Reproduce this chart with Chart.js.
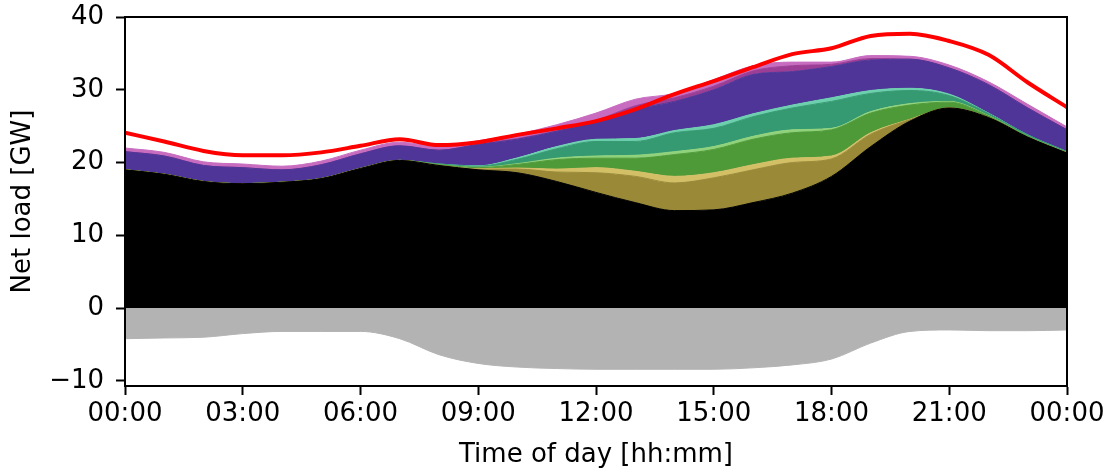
<!DOCTYPE html>
<html>
<head>
<meta charset="utf-8">
<script src="https://cdn.jsdelivr.net/npm/chart.js@4/dist/chart.umd.min.js"></script>
<style>
  html, body { margin: 0; padding: 0; background: #fff; }
  #wrap { width: 1112px; height: 471px; }
</style>
</head>
<body>
<div id="wrap"><canvas id="loadChart"></canvas></div>
<script>
// hour of day, 0..24
const hours = [0, 1, 2, 3, 4, 5, 6, 7, 8, 9, 10, 11, 12, 13, 14, 15, 16, 17, 18, 19, 20, 21, 22, 23, 24];

// stacked layers, bottom to top [GW]
const baseLoad   = [19.0, 18.4, 17.4, 17.1, 17.3, 17.8, 19.2, 20.3, 19.6, 19.0, 18.6, 17.4, 15.9, 14.5, 13.4, 13.5, 14.5, 15.8, 18.1, 22.2, 25.7, 27.5, 26.2, 23.5, 21.3];
const olive      = [0, 0, 0, 0, 0, 0, 0, 0, 0, 0.1, 0.5, 1.3, 2.7, 3.6, 3.8, 4.4, 4.5, 4.2, 2.4, 1.7, 0.2, 0, 0, 0, 0];
const oliveLight = [0, 0, 0, 0, 0, 0, 0, 0, 0, 0.05, 0.15, 0.4, 0.7, 0.7, 0.9, 0.7, 0.7, 0.6, 0.4, 0.2, 0.05, 0, 0, 0, 0];
const green      = [0, 0, 0, 0, 0, 0, 0, 0, 0.1, 0.15, 0.5, 1.3, 1.3, 1.8, 3.0, 3.2, 3.5, 3.5, 3.6, 2.7, 1.95, 0.8, 0.2, 0.1, 0.05];
const greenLight = [0, 0, 0, 0, 0, 0, 0, 0, 0, 0.05, 0.1, 0.2, 0.3, 0.4, 0.4, 0.4, 0.4, 0.4, 0.2, 0.2, 0.2, 0.1, 0.05, 0, 0];
const teal       = [0, 0, 0, 0, 0, 0, 0, 0, 0.1, 0.15, 0.6, 1.3, 2.0, 1.9, 2.6, 2.5, 2.7, 3.0, 3.7, 2.5, 1.8, 0.8, 0.3, 0.2, 0.15];
const tealLight  = [0, 0, 0, 0, 0, 0, 0, 0, 0, 0.05, 0.2, 0.3, 0.3, 0.4, 0.3, 0.5, 0.4, 0.4, 0.5, 0.4, 0.3, 0.2, 0.05, 0, 0];
const indigo     = [2.5, 2.5, 2.2, 2.2, 1.7, 1.9, 2.0, 2.0, 1.9, 2.95, 2.55, 2.1, 2.4, 4.0, 4.0, 4.8, 5.4, 4.6, 4.3, 4.2, 4.0, 3.6, 3.9, 3.7, 3.0];
const magenta    = [0, 0, 0, 0, 0, 0, 0, 0, 0, 0.05, 0.1, 0.1, 0.2, 0.5, 0.5, 0.5, 0.5, 0.8, 0.3, 0.2, 0, 0, 0, 0, 0];
const pink       = [0.5, 0.5, 0.5, 0.5, 0.5, 0.5, 0.5, 0.5, 0.5, 0.45, 0.6, 0.8, 1.0, 0.9, 0.6, 0.9, 0.7, 0.5, 0.3, 0.4, 0.4, 0.4, 0.4, 0.5, 0.4];

// below zero
const negative   = [-4.2, -4.1, -4.0, -3.5, -3.2, -3.2, -3.2, -4.2, -6.4, -7.6, -8.1, -8.3, -8.4, -8.4, -8.4, -8.4, -8.2, -7.8, -7.0, -4.8, -3.2, -3.0, -3.1, -3.1, -3.0];

// total load (red line)
const totalLoad  = [24.1, 22.9, 21.6, 21.0, 21.0, 21.4, 22.3, 23.2, 22.4, 22.8, 23.8, 24.7, 25.7, 27.3, 29.4, 31.2, 33.1, 34.9, 35.7, 37.4, 37.7, 36.7, 34.8, 31.0, 27.6];

const yTicks = [-10, 0, 10, 20, 30, 40];
const xTicks = [0, 3, 6, 9, 12, 15, 18, 21, 24];

function pts(values) {
  return values.map((v, i) => ({ x: hours[i], y: v }));
}

function layer(values, color, first) {
  return {
    data: pts(values),
    stack: "gen",
    backgroundColor: color,
    borderColor: color,
    borderWidth: 1,
    pointRadius: 0,
    fill: first ? "origin" : "-1",
    cubicInterpolationMode: "monotone",
    order: 1
  };
}

function hhmm(h) {
  return String(h % 24 === 0 && h > 0 ? 0 : h).padStart(2, "0") + ":00";
}

// no extra room for overhanging tick labels, the layout padding handles it
function noPad(s) {
  s.paddingTop = 0;
  s.paddingBottom = 0;
  s.paddingLeft = 0;
  s.paddingRight = 0;
}

const frame = {
  id: "frame",
  afterDraw(chart) {
    const a = chart.chartArea;
    const ctx = chart.ctx;
    ctx.save();
    ctx.strokeStyle = "#000";
    ctx.lineWidth = 2;
    ctx.strokeRect(a.left, a.top, a.right - a.left, a.bottom - a.top);
    ctx.restore();
  }
};

const font = { family: "'DejaVu Sans', sans-serif", size: 26 };

new Chart(document.getElementById("loadChart"), {
  type: "line",
  data: {
    datasets: [
      layer(baseLoad, "#000000", true),
      layer(olive, "#9a8a38"),
      layer(oliveLight, "#d2bf66"),
      layer(green, "#4f9a38"),
      layer(greenLight, "#8fd27b"),
      layer(teal, "#359a72"),
      layer(tealLight, "#6ccfae"),
      layer(indigo, "#4f3597"),
      layer(magenta, "#9c3d96"),
      layer(pink, "#c86cc0"),
      {
        data: pts(negative),
        stack: "neg",
        backgroundColor: "#b3b3b3",
        borderColor: "#b3b3b3",
        borderWidth: 1,
        pointRadius: 0,
        fill: "origin",
        cubicInterpolationMode: "monotone",
        order: 1
      },
      {
        data: pts(totalLoad),
        stack: "total",
        borderColor: "#ff0000",
        borderWidth: 4,
        pointRadius: 0,
        fill: false,
        cubicInterpolationMode: "monotone",
        order: 0
      }
    ]
  },
  options: {
    responsive: true,
    maintainAspectRatio: false,
    animation: false,
    layout: { padding: { top: 17, right: 45, left: 0, bottom: 0 } },
    plugins: {
      legend: { display: false },
      tooltip: { enabled: false }
    },
    scales: {
      x: {
        type: "linear",
        min: 0,
        max: 24,
        afterBuildTicks: (s) => { s.ticks = xTicks.map(v => ({ value: v })); },
        afterFit: (s) => { s.height = 85; noPad(s); },
        border: { color: "#000", width: 2 },
        grid: { drawOnChartArea: false, drawTicks: true, tickLength: 9, tickWidth: 2, tickColor: "#000" },
        ticks: { color: "#000", font, padding: 4, maxRotation: 0, callback: (v) => hhmm(v) },
        title: { display: true, text: "Time of day [hh:mm]", color: "#000", font, padding: { top: 0, bottom: 0 } }
      },
      y: {
        stacked: true,
        min: -10.7,
        max: 40,
        afterBuildTicks: (s) => { s.ticks = yTicks.map(v => ({ value: v })); },
        afterFit: (s) => { s.width = 125; noPad(s); },
        border: { color: "#000", width: 2 },
        grid: { drawOnChartArea: false, drawTicks: true, tickLength: 9, tickWidth: 2, tickColor: "#000" },
        ticks: { color: "#000", font, padding: 12, callback: (v) => (v < 0 ? "\u2212" + Math.abs(v) : String(v)) },
        title: { display: true, text: "Net load [GW]", color: "#000", font, padding: { top: 8, bottom: 0 } }
      }
    }
  },
  plugins: [frame]
});
</script>
</body>
</html>
